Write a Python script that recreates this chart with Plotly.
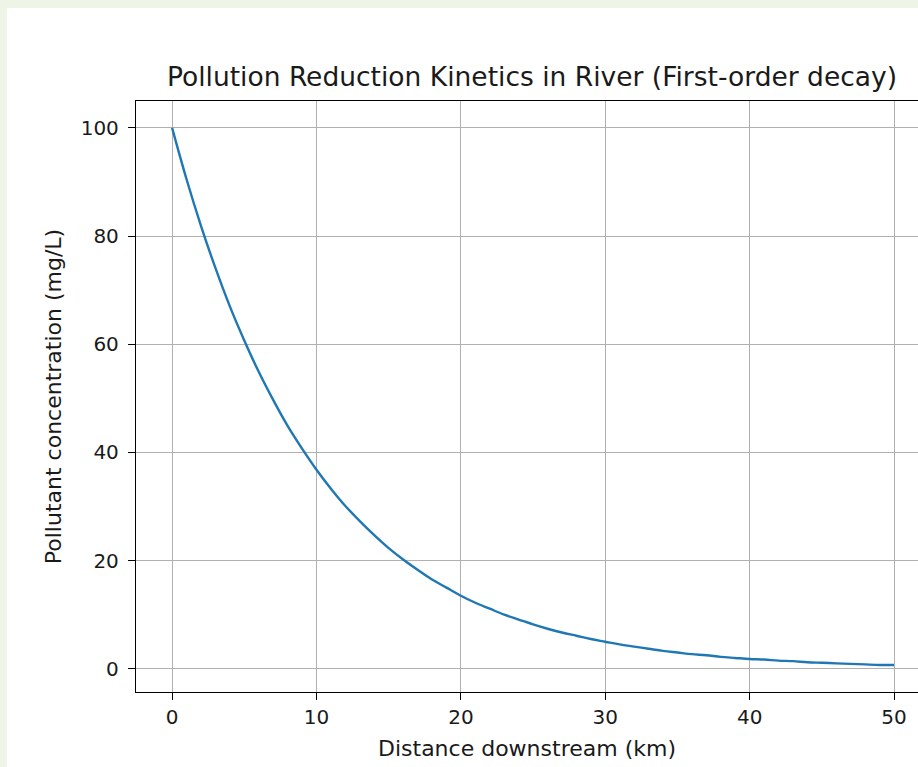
import plotly.graph_objects as go

distance_km = list(range(0, 51))
concentration = [100.0, 90.5, 81.9, 74.1, 67.0, 60.7, 54.9, 49.7, 44.9, 40.7,
                 36.8, 33.3, 30.1, 27.3, 24.7, 22.3, 20.2, 18.3, 16.5, 15.0,
                 13.5, 12.2, 11.1, 10.0, 9.1, 8.2, 7.4, 6.7, 6.1, 5.5,
                 5.0, 4.5, 4.1, 3.7, 3.3, 3.0, 2.7, 2.5, 2.2, 2.0,
                 1.8, 1.7, 1.5, 1.4, 1.2, 1.1, 1.0, 0.9, 0.8, 0.7, 0.7]
x_ticks = [0, 10, 20, 30, 40, 50]
y_ticks = [0, 20, 40, 60, 80, 100]

W, H = 918, 767
L, R, T, B = 136, 0, 101, 75
pw, ph = W - L - R, H - T - B

def px_x(p):
    return (p - L) / pw

def px_y(p):
    return (H - B - p) / ph

fig = go.Figure()
fig.add_trace(go.Scatter(x=distance_km, y=concentration, mode="lines",
                         line=dict(color="#1f77b4", width=2.4, shape="spline"),
                         hoverinfo="skip", showlegend=False))

font = "DejaVu Sans"
txt = "#1a1a1a"
fig.update_layout(
    width=W, height=H,
    margin=dict(l=L, r=R, t=T, b=B, pad=0),
    paper_bgcolor="#eef5e7",
    plot_bgcolor="white",
    font=dict(family=font, color=txt),
    title=dict(text="Pollution Reduction Kinetics in River (First-order decay)",
               font=dict(size=26.5, family=font, color=txt),
               x=px_x(532), xref="paper", xanchor="center",
               y=1 - 77 / H, yref="container", yanchor="middle"),
    shapes=[dict(type="rect", xref="paper", yref="paper",
                 x0=px_x(7), x1=1.05, y0=px_y(800), y1=px_y(8),
                 fillcolor="white", line=dict(width=0), layer="below")],
    xaxis=dict(range=[-2.5, 51.66], tickvals=x_ticks,
               showgrid=True, gridcolor="#b0b0b0", gridwidth=1.2,
               zeroline=False, showline=True, linecolor="black", linewidth=1.3,
               mirror=True, ticks="outside", ticklen=7, tickwidth=1.2,
               tickcolor="black", tickfont=dict(size=20, family=font, color=txt),
               title=dict(text="Distance downstream (km)", standoff=12,
                          font=dict(size=22, family=font, color=txt))),
    yaxis=dict(range=[-4.3, 104.97], tickvals=y_ticks,
               showgrid=True, gridcolor="#b0b0b0", gridwidth=1.2,
               zeroline=False, showline=True, linecolor="black", linewidth=1.3,
               mirror=False, ticks="outside", ticklen=7, tickwidth=1.2,
               tickcolor="black", tickfont=dict(size=20, family=font, color=txt),
               ticklabelstandoff=5,
               title=dict(text="Pollutant concentration (mg/L)", standoff=12,
                          font=dict(size=22, family=font, color=txt))),
)

fig.write_html("out.html",
               config={"displayModeBar": False},
               post_script="document.body.style.margin='0';document.body.style.overflow='hidden';")
